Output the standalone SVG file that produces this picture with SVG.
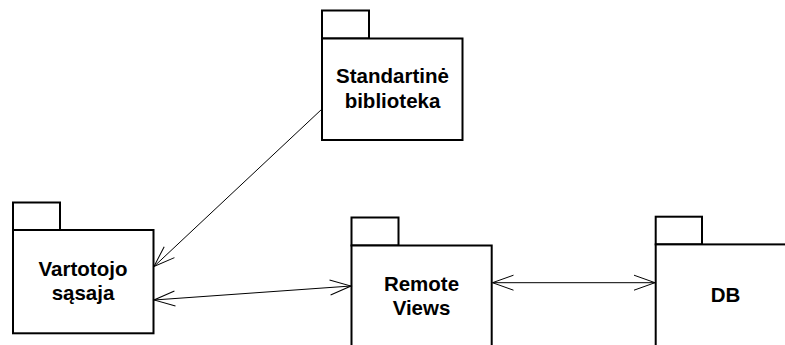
<svg xmlns="http://www.w3.org/2000/svg" width="785" height="345" viewBox="0 0 785 345">
<style>
.box{fill:#fff;stroke:#000;stroke-width:2}
.lbl{font-family:"Liberation Sans",Arial,sans-serif;font-weight:bold;font-size:20.5px;text-anchor:middle;fill:#000}
.conn{fill:none;stroke:#000;stroke-width:1}
</style>
<defs>
<marker id="open" viewBox="-23 -9 25 18" refX="0" refY="0" markerWidth="25" markerHeight="18" markerUnits="userSpaceOnUse" orient="auto-start-reverse">
<path d="M-21,-7.5 L0,0 L-21,7.5" fill="none" stroke="#000" stroke-width="1"/>
</marker>
</defs>
<rect width="785" height="345" fill="#fff"/>
<g id="standartine">
<rect class="box" x="322" y="10.5" width="47" height="28"/>
<rect class="box" x="322" y="38.5" width="140.5" height="101.5"/>
<text class="lbl" x="392.5" y="82.5">Standartinė</text>
<text class="lbl" x="392.5" y="108">biblioteka</text>
</g>
<g id="vartotojo">
<rect class="box" x="13" y="202.5" width="47" height="27.5"/>
<rect class="box" x="13" y="230" width="140.5" height="103.3"/>
<text class="lbl" x="83" y="276">Vartotojo</text>
<text class="lbl" x="83" y="300">sąsaja</text>
</g>
<g id="remote">
<rect class="box" x="351.5" y="217.5" width="47" height="28"/>
<rect class="box" x="351.5" y="245.5" width="140.2" height="110"/>
<text class="lbl" x="421.5" y="290.5">Remote</text>
<text class="lbl" x="421.5" y="315">Views</text>
</g>
<g id="db">
<rect class="box" x="655.7" y="216.7" width="46.3" height="27.7"/>
<rect class="box" x="655.7" y="244.4" width="150" height="120"/>
<text class="lbl" x="725.5" y="301.5">DB</text>
</g>
<g id="connectors">
<line class="conn" x1="322" y1="109" x2="154" y2="266.5" marker-end="url(#open)"/>
<line class="conn" x1="154" y1="300" x2="351" y2="286" marker-start="url(#open)" marker-end="url(#open)"/>
<line class="conn" x1="492.5" y1="282.7" x2="655" y2="282.7" marker-start="url(#open)" marker-end="url(#open)"/>
</g>
</svg>
